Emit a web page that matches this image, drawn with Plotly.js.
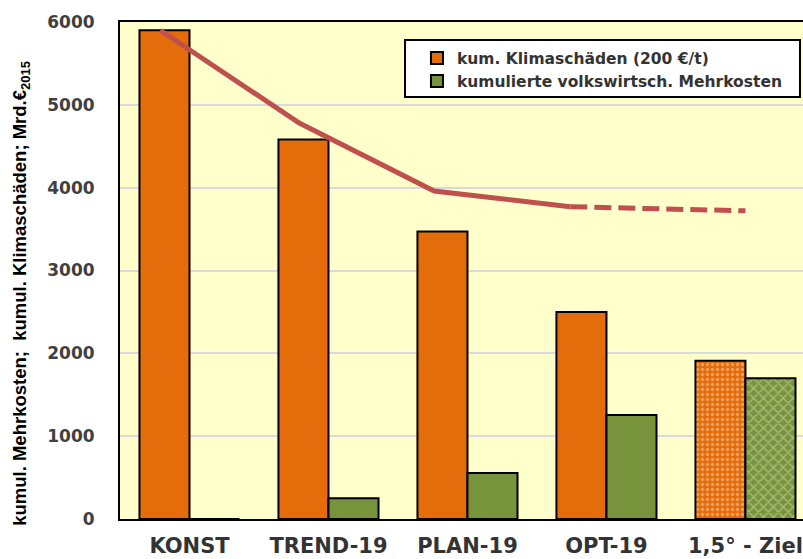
<!DOCTYPE html>
<html>
<head>
<meta charset="utf-8">
<script src="https://cdn.plot.ly/plotly-3.0.1.min.js"></script>
<style>
html,body{margin:0;padding:0;overflow:hidden;background:#fff;}
#chart{width:803px;height:559px;}
</style>
</head>
<body>
<div id="chart"></div>
<script>
// ---- data ----
const categories = ['KONST', 'TREND-19', 'PLAN-19', 'OPT-19', '1,5° - Ziel'];
const climateDamages = [5900, 4580, 3470, 2500, 1910];   // kum. Klimaschäden (200 €/t)
const extraCosts = [0, 250, 555, 1255, 1700];             // kumulierte volkswirtsch. Mehrkosten
const trendPos = [-0.21, 0.79, 1.76, 2.74, 4.0];          // line position along category axis
const trendValues = [5900, 4780, 3960, 3770, 3720];       // line values
const yTicks = [0, 1000, 2000, 3000, 4000, 5000, 6000];
const legendNames = ['kum. Klimaschäden (200 €/t)', 'kumulierte volkswirtsch. Mehrkosten'];
const yTitle = 'kumul. Mehrkosten;  kumul. Klimaschäden; Mrd.€<sub>2015</sub>';

// ---- styling ----
const ORANGE = '#E46C0A';
const GREEN = '#77933C';
const LINE = '#C0504D';
const XRANGE = [-0.5, 4.414];

const traces = [
  {
    type: 'bar', x: categories, y: climateDamages, name: legendNames[0],
    legendgroup: 'a',
    marker: {
      color: ORANGE, line: {color: '#000', width: 2},
      pattern: {shape: ['', '', '', '', '.'], fillmode: 'overlay', fgcolor: '#FBD3B0', size: 5, solidity: 0.35}
    },
    hoverinfo: 'x+y'
  },
  {
    type: 'bar', x: categories, y: extraCosts, name: legendNames[1],
    legendgroup: 'b',
    marker: {
      color: GREEN, line: {color: '#000', width: 2},
      pattern: {shape: ['', '', '', '', 'x'], fillmode: 'overlay', fgcolor: '#D9E6C0', size: 7, solidity: 0.35}
    },
    hoverinfo: 'x+y'
  },
  {
    type: 'scatter', mode: 'lines', xaxis: 'x2',
    x: trendPos.slice(0, 4), y: trendValues.slice(0, 4),
    line: {color: LINE, width: 5}, showlegend: false
  },
  {
    type: 'scatter', mode: 'lines', xaxis: 'x2',
    x: trendPos.slice(3), y: trendValues.slice(3),
    line: {color: LINE, width: 5, dash: '17px,7px'}, showlegend: false
  }
];

const layout = {
  width: 803, height: 559,
  margin: {l: 120, r: 0, t: 22, b: 40, pad: 0},
  paper_bgcolor: '#FFFFFF',
  plot_bgcolor: '#FFFFCC',
  barmode: 'group', bargap: 0.28, bargroupgap: 0,
  showlegend: true,
  legend: {
    x: 0.4348, y: 0.961, xanchor: 'left', yanchor: 'top',
    bgcolor: 'rgba(0,0,0,0)', borderwidth: 0,
    font: {family: 'DejaVu Sans', size: 15.5, color: '#333', weight: 'bold'},
    traceorder: 'grouped', tracegroupgap: 0
  },
  shapes: [{
    type: 'rect', xref: 'paper', yref: 'paper', layer: 'above',
    x0: 0.4173, x1: 0.9956, y0: 0.849, y1: 0.9638,
    fillcolor: '#FFFFFF', line: {color: '#000', width: 2}
  }],
  xaxis: {
    type: 'category', range: XRANGE, fixedrange: true,
    showline: true, linecolor: '#000', linewidth: 2, mirror: true,
    showgrid: false, ticks: '',
    tickfont: {family: 'DejaVu Sans', size: 21, color: '#333', weight: 'bold'},
    ticklabelstandoff: 7
  },
  xaxis2: {
    type: 'linear', range: XRANGE, overlaying: 'x', visible: false, fixedrange: true
  },
  yaxis: {
    range: [0, 6000], tickvals: yTicks, fixedrange: true,
    showline: true, linecolor: '#000', linewidth: 2,
    showgrid: true, gridcolor: '#DADADA', gridwidth: 2,
    zeroline: false, ticks: '',
    tickfont: {family: 'DejaVu Sans', size: 17, color: '#404040', weight: 'bold'},
    ticklabelstandoff: 20
  },
  annotations: [{
    text: yTitle, xref: 'paper', yref: 'paper',
    x: -0.145, y: 0.455, xanchor: 'center', yanchor: 'middle',
    textangle: -90, showarrow: false,
    font: {family: 'Liberation Sans, Arial, sans-serif', size: 18.5, color: '#000', weight: 'bold'}
  }]
};

Plotly.newPlot('chart', traces, layout, {displayModeBar: false, staticPlot: true});
</script>
</body>
</html>
